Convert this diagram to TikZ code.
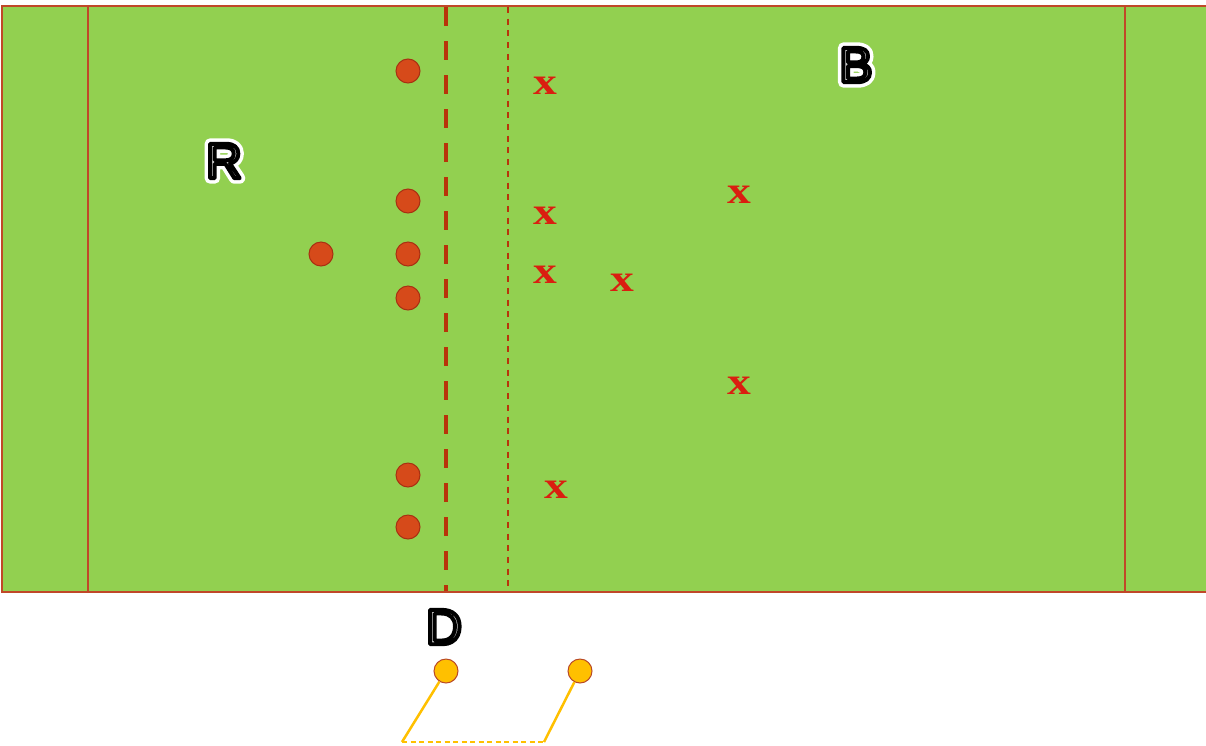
\documentclass[tikz,border=0pt]{standalone}
\usepackage{fontspec}
\setmainfont{Liberation Serif}
\newfontfamily\lblfont{Liberation Sans}
\definecolor{field}{RGB}{146,208,80}
\definecolor{lineRed}{RGB}{192,72,40}
\definecolor{dashRed}{RGB}{184,52,10}
\definecolor{dotRed}{RGB}{214,74,26}
\definecolor{dotEdge}{RGB}{168,48,18}
\definecolor{xRed}{RGB}{218,30,16}
\definecolor{gold}{RGB}{255,192,0}
\definecolor{goldEdge}{RGB}{184,72,40}
\definecolor{letterFill}{RGB}{200,200,200}
\tikzset{
  redplayer/.style={circle, fill=dotRed, draw=dotEdge, line width=1pt, minimum size=24pt, inner sep=0pt},
  goldplayer/.style={circle, fill=gold, draw=goldEdge, line width=1pt, minimum size=24pt, inner sep=0pt},
  xmark/.style={font=\fontsize{38}{38}\selectfont\bfseries, text=xRed, inner sep=0pt},
  bigletter/.style={font=\lblfont\fontsize{50}{50}\selectfont, inner sep=0pt},
  fieldline/.style={draw=lineRed, line width=2pt},
  goldline/.style={draw=gold, line width=2.5pt}
}
% outlined letter: white halo, thick black outline, thin light inner line
\newcommand{\outlText}[1]{%
  \rlap{\color{white}\special{pdf:literal direct q 2 Tr 11 w 1 J 1 j 1 1 1 RG 1 1 1 rg}#1\special{pdf:literal direct Q}}%
  {\color{letterFill}\special{pdf:literal direct q 2 Tr 3.9 w 1 j 0 0 0 RG 0.8 0.8 0.8 rg}#1\special{pdf:literal direct Q}}}
\newcommand{\xText}{\scalebox{1.25}[1]{x}}
\begin{document}
\begin{tikzpicture}[x=1pt,y=-1pt]
\useasboundingbox (0,0) rectangle (1206,745);
\fill[white] (0,0) rectangle (1206,745);
% field
\fill[field] (1.5,6) rectangle (1212,592);
\draw[fieldline] (1.5,6) rectangle (1212,592);
\draw[fieldline] (88,6) -- (88,592);
\draw[fieldline] (1125,6) -- (1125,592);
\draw[draw=dashRed, line width=4pt, dash pattern=on 19pt off 15pt] (446,7) -- (446,591);
\draw[draw=dashRed, line width=1.3pt, dash pattern=on 6pt off 5.7pt] (508,7) -- (508,591);
% red players
\node[redplayer] (r1) at (408,71) {};
\node[redplayer] (r2) at (408,201) {};
\node[redplayer] (r3) at (408,254) {};
\node[redplayer] (r4) at (321,254) {};
\node[redplayer] (r5) at (408,298) {};
\node[redplayer] (r6) at (408,475) {};
\node[redplayer] (r7) at (408,527) {};
% blue players (x marks)
\node[xmark] (b1) at (545,86) {\xText};
\node[xmark] (b2) at (545,216) {\xText};
\node[xmark] (b3) at (545,275) {\xText};
\node[xmark] (b4) at (622,283) {\xText};
\node[xmark] (b5) at (739,195) {\xText};
\node[xmark] (b6) at (739,386) {\xText};
\node[xmark] (b7) at (556,490) {\xText};
% labels
\node[bigletter] (lR) at (224,161) {\outlText{R}};
\node[bigletter] (lB) at (856,65) {\outlText{B}};
\node[bigletter] (lD) at (444,627) {\outlText{D}};
% gold players
\node[goldplayer] (g1) at (446,671) {};
\node[goldplayer] (g2) at (580,671) {};
\coordinate (c1) at (402,742);
\coordinate (c2) at (544,742);
\draw[goldline] (g1) -- (c1);
\draw[goldline] (g2) -- (c2);
\draw[draw=gold, line width=2pt, dash pattern=on 5pt off 3.5pt] (c1) -- (c2);
\end{tikzpicture}
\end{document}
